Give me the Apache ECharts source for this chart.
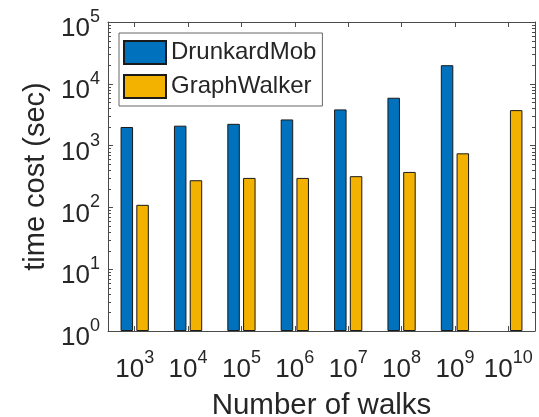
<!DOCTYPE html>
<html>
<head>
<meta charset="utf-8">
<script src="https://cdn.jsdelivr.net/npm/echarts@6/dist/echarts.min.js"></script>
<style>
  html, body { margin: 0; padding: 0; background: #fff; }
  #chart { width: 539px; height: 417px; }
</style>
</head>
<body>
<div id="chart"></div>
<script>
// Number of walks, as powers of ten
const walkExponents = ['3', '4', '5', '6', '7', '8', '9', '10'];
// Time cost in seconds (log scale)
const drunkardMob = [2000, 2100, 2250, 2650, 3850, 5950, 20000, null];
const graphWalker = [110, 275, 300, 300, 320, 375, 750, 3750];
const seriesNames = ['DrunkardMob', 'GraphWalker'];
const seriesColors = ['#0072BD', '#F3B100'];
const yMin = 1, yMax = 100000;

const FONT = 'Liberation Sans';
const TEXT = '#262626';
const AXIS = '#4a4a4a';
const GRID = { left: 108, top: 22, width: 427, height: 309 };

const supRich = {
  b: { fontSize: 26, lineHeight: 34, verticalAlign: 'bottom', fontFamily: FONT, color: TEXT },
  s: { fontSize: 18, lineHeight: 18, verticalAlign: 'top', fontFamily: FONT, color: TEXT }
};
const powerLabel = e => '{b|10}{s|' + e + '}';

const chart = echarts.init(document.getElementById('chart'), null, { renderer: 'canvas' });

const axisLine = { show: true, lineStyle: { color: AXIS, width: 1 } };

chart.setOption({
  animation: false,
  backgroundColor: '#fff',
  textStyle: { fontFamily: FONT, color: TEXT },
  grid: {
    left: GRID.left, top: GRID.top, width: GRID.width, height: GRID.height,
    containLabel: false, outerBoundsMode: 'none'
  },
  legend: {
    orient: 'vertical',
    left: 119, top: 33,
    padding: [7, 6, 7, 4],
    icon: 'rect',
    itemWidth: 42, itemHeight: 23, itemGap: 9,
    borderColor: '#666', borderWidth: 1,
    backgroundColor: '#fff',
    textStyle: { fontSize: 24, lineHeight: 23, color: TEXT, fontFamily: FONT },
    data: seriesNames
  },
  xAxis: [
    {
      type: 'category', data: walkExponents, position: 'bottom',
      axisLine: axisLine,
      axisTick: { show: true, inside: true, alignWithLabel: true, length: 5, lineStyle: { color: AXIS } },
      axisLabel: { interval: 0, margin: 18, formatter: powerLabel, rich: supRich },
      splitLine: { show: false },
      name: 'Number of walks', nameLocation: 'middle', nameGap: 60,
      nameTextStyle: { fontSize: 29.5, color: TEXT, fontFamily: FONT }
    },
    {
      type: 'category', data: walkExponents, position: 'top',
      axisLine: axisLine,
      axisTick: { show: true, inside: true, alignWithLabel: true, length: 5, lineStyle: { color: AXIS } },
      axisLabel: { show: false }, splitLine: { show: false }
    }
  ],
  yAxis: [
    {
      type: 'log', logBase: 10, min: yMin, max: yMax, position: 'left',
      axisLine: axisLine,
      axisTick: { show: true, inside: true, length: 5, lineStyle: { color: AXIS } },
      axisLabel: {
        margin: 8, padding: [6, 0, 0, 0],
        formatter: v => powerLabel(Math.round(Math.log10(v))), rich: supRich
      },
      splitLine: { show: false },
      name: 'time cost (sec)', nameLocation: 'middle', nameGap: 58,
      nameTextStyle: { fontSize: 29, color: TEXT, fontFamily: FONT }
    },
    {
      type: 'log', logBase: 10, min: yMin, max: yMax, position: 'right',
      axisLine: axisLine,
      axisTick: { show: true, inside: true, length: 5, lineStyle: { color: AXIS } },
      axisLabel: { show: false }, splitLine: { show: false }
    }
  ],
  series: [
    {
      name: seriesNames[0], type: 'bar', data: drunkardMob,
      xAxisIndex: 0, yAxisIndex: 0,
      barWidth: 12.5, barGap: '26%',
      itemStyle: { color: seriesColors[0], borderColor: '#1a1a1a', borderWidth: 1 }
    },
    {
      name: seriesNames[1], type: 'bar', data: graphWalker,
      xAxisIndex: 0, yAxisIndex: 0,
      barWidth: 12.5, barGap: '26%',
      itemStyle: { color: seriesColors[1], borderColor: '#1a1a1a', borderWidth: 1 }
    }
  ]
});

// Logarithmic minor ticks (2..9 x 10^k) on both vertical box edges
const minorTicks = [];
for (let k = 0; k < 5; k++) {
  for (let m = 2; m <= 9; m++) {
    const y = Math.round(chart.convertToPixel({ yAxisIndex: 0 }, m * Math.pow(10, k))) + 0.5;
    const xl = GRID.left, xr = GRID.left + GRID.width;
    minorTicks.push({
      type: 'line', silent: true, z: 5,
      shape: { x1: xl, y1: y, x2: xl + 3, y2: y },
      style: { stroke: AXIS, lineWidth: 1 }
    });
    minorTicks.push({
      type: 'line', silent: true, z: 5,
      shape: { x1: xr - 3, y1: y, x2: xr, y2: y },
      style: { stroke: AXIS, lineWidth: 1 }
    });
  }
}
chart.setOption({ graphic: minorTicks });
</script>
</body>
</html>
